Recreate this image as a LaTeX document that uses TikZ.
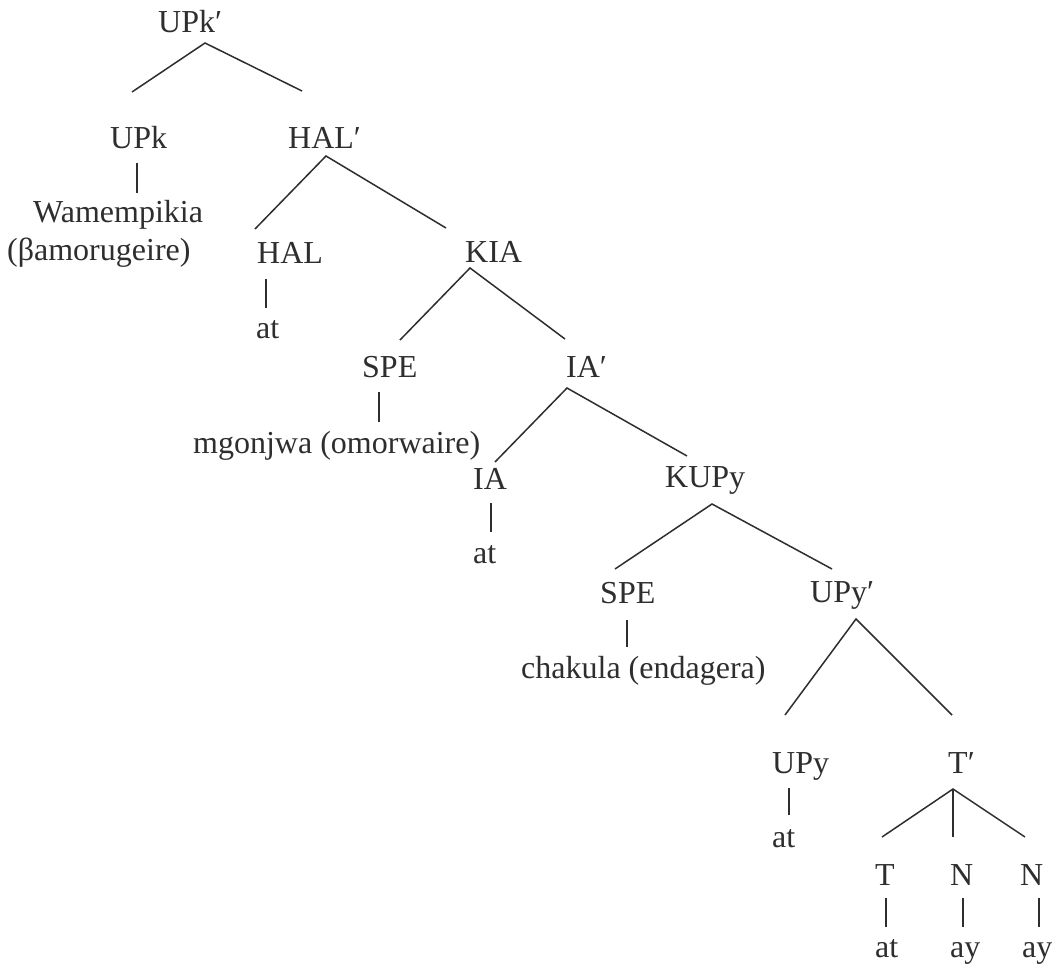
\documentclass[tikz,border=0pt]{standalone}
\usepackage{fontspec}
\setmainfont{Liberation Serif}
\definecolor{ink}{HTML}{2E2E2E}
\begin{document}
\begin{tikzpicture}[x=1pt,y=-1pt,
  lbl/.style={anchor=base west,inner sep=0pt,text=ink,font=\fontsize{32}{37}\selectfont},
  edge/.style={draw=ink,line width=1.5pt},
  link/.style={draw=ink,line width=1.2pt}]
\useasboundingbox[fill=white] (0,0) rectangle (1059,968);

% labels (left edge, baseline)
\node[lbl] (upkb) at (158,33)  {UPk′};
\node[lbl] (upk)  at (110,149) {UPk};
\node[lbl] (wam)  at (33,223)  {Wamempikia};
\node[lbl] (bam)  at (7,261)   {(βamorugeire)};
\node[lbl] (halb) at (288,149) {HAL′};
\node[lbl] (hal)  at (257,263) {HAL};
\node[lbl] (at1)  at (256,338) {at};
\node[lbl] (kia)  at (465,262) {KIA};
\node[lbl] (spea) at (362,377) {SPE};
\node[lbl] (mgo)  at (193,453) {mgonjwa (omorwaire)};
\node[lbl] (iab)  at (566,377) {IA′};
\node[lbl] (ia)   at (473,489) {IA};
\node[lbl] (at2)  at (473,563) {at};
\node[lbl] (kupy) at (665,487) {KUPy};
\node[lbl] (speb) at (600,603) {SPE};
\node[lbl] (cha)  at (521,678) {chakula (endagera)};
\node[lbl] (upyb) at (810,602) {UPy′};
\node[lbl] (upy)  at (772,773) {UPy};
\node[lbl] (at3)  at (772,847) {at};
\node[lbl] (tb)   at (948,773) {T′};
\node[lbl] (t)    at (875,885) {T};
\node[lbl] (na)   at (950,885) {N};
\node[lbl] (nb)   at (1020,885){N};
\node[lbl] (at4)  at (875,957) {at};
\node[lbl] (aya)  at (950,957) {ay};
\node[lbl] (ayb)  at (1022,957){ay};

% branching points below each mother node
\coordinate (upkb-b) at (205,43);
\coordinate (halb-b) at (326,156);
\coordinate (kia-b)  at (470,268);
\coordinate (iab-b)  at (567,388);
\coordinate (kupy-b) at (712,504);
\coordinate (upyb-b) at (856,619);
\coordinate (tb-b)   at (953,789);
% line ends above each daughter node
\coordinate (upk-t)  at (132,92);
\coordinate (halb-t) at (302,91);
\coordinate (hal-t)  at (255,229);
\coordinate (kia-t)  at (446,228);
\coordinate (spea-t) at (400,340);
\coordinate (iab-t)  at (565,339);
\coordinate (ia-t)   at (495,462);
\coordinate (kupy-t) at (687,456);
\coordinate (speb-t) at (615,569);
\coordinate (upyb-t) at (832,569);
\coordinate (upy-t)  at (785,715);
\coordinate (tb-t)   at (952,715);
\coordinate (t-t)    at (882,837);
\coordinate (na-t)   at (953,837);
\coordinate (nb-t)   at (1025,837);

% branches
\draw[edge] (upk-t) -- (upkb-b) -- (halb-t);
\draw[edge] (hal-t) -- (halb-b) -- (kia-t);
\draw[edge] (spea-t) -- (kia-b) -- (iab-t);
\draw[edge] (ia-t) -- (iab-b) -- (kupy-t);
\draw[edge] (speb-t) -- (kupy-b) -- (upyb-t);
\draw[edge] (upy-t) -- (upyb-b) -- (tb-t);
\draw[edge] (t-t) -- (tb-b) -- (nb-t);
\draw[edge] (tb-b) -- (na-t);

% unary links from category to word
\coordinate (upk-b)  at (137,163); \coordinate (wam-t) at (137,193);
\coordinate (hal-b)  at (266,279); \coordinate (at1-t) at (266,308);
\coordinate (spea-b) at (379,392); \coordinate (mgo-t) at (379,422);
\coordinate (ia-b)   at (491,503); \coordinate (at2-t) at (491,532);
\coordinate (speb-b) at (627,620); \coordinate (cha-t) at (627,647);
\coordinate (upy-b)  at (789,788); \coordinate (at3-t) at (789,815);
\coordinate (t-b)    at (886,898); \coordinate (at4-t) at (886,927);
\coordinate (na-b)   at (963,898); \coordinate (aya-t) at (963,927);
\coordinate (nb-b)   at (1039,898);\coordinate (ayb-t) at (1039,927);
\draw[link] (upk-b) -- (wam-t);
\draw[link] (hal-b) -- (at1-t);
\draw[link] (spea-b) -- (mgo-t);
\draw[link] (ia-b) -- (at2-t);
\draw[link] (speb-b) -- (cha-t);
\draw[link] (upy-b) -- (at3-t);
\draw[link] (t-b) -- (at4-t);
\draw[link] (na-b) -- (aya-t);
\draw[link] (nb-b) -- (ayb-t);
\end{tikzpicture}
\end{document}
